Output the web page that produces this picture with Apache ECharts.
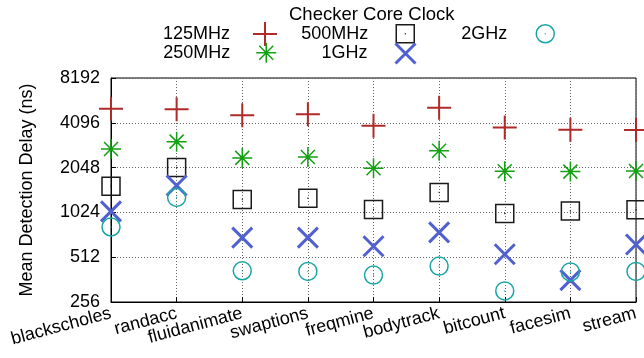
<!DOCTYPE html>
<html>
<head>
<meta charset="utf-8">
<script src="https://cdn.jsdelivr.net/npm/echarts@6/dist/echarts.min.js"></script>
<style>
html,body{margin:0;padding:0;background:#fff;}
#c{width:644px;height:358px;}
</style>
</head>
<body>
<div id="c"></div>
<script>
const categories = ['blackscholes','randacc','fluidanimate','swaptions','freqmine','bodytrack','bitcount','facesim','stream'];
const seriesNames = ['125MHz','250MHz','500MHz','1GHz','2GHz'];
const v125MHz = [5100, 5060, 4610, 4680, 3910, 5160, 3810, 3680, 3660];
const v250MHz = [2730, 3060, 2380, 2415, 2030, 2660, 1935, 1925, 1945];
const v500MHz = [1535, 2048, 1250, 1276, 1072, 1393, 1008, 1045, 1067];
const v1GHz   = [1040, 1552, 693, 693, 606, 752, 536, 359, 623];
const v2GHz   = [817, 1290, 415, 411, 388, 446, 304, 408, 411];
const yTicks = [256, 512, 1024, 2048, 4096, 8192];

const FONT = 'Liberation Sans, Arial, Helvetica, sans-serif';
const styles = [
  {data: v125MHz, color: '#b02a2a', path: 'path://M0,12 L24,12 M12,0 L12,24', size: 24, w: 2, L: 254, T: 231, cy: 33},
  {data: v250MHz, color: '#13a013', path: 'path://M0,10 L20,10 M10,0 L10,20 M3,3 L17,17 M17,3 L3,17', size: 20, w: 1.5, L: 257, T: 231, cy: 52},
  {data: v500MHz, color: '#1a1a1a', path: 'path://M0,0 L18,0 L18,18 L0,18 Z M8.5,9 L9.5,9', size: 18, w: 1.5, L: 397, T: 369, cy: 33},
  {data: v1GHz, color: '#5060d0', path: 'path://M0,0 L20,20 M20,0 L0,20', size: 20, w: 3, L: 397, T: 369, cy: 52},
  {data: v2GHz, color: '#1aa5a5', path: 'path://M0,10 A10,10 0 1,1 20,10 A10,10 0 1,1 0,10 Z M9.5,10 L10.5,10', size: 18, w: 1.5, L: 537, T: 508, cy: 33}
];

const series = styles.map((s, i) => ({
  name: seriesNames[i],
  type: 'scatter',
  data: s.data.map((v, j) => [categories[j], v]),
  symbol: s.path,
  symbolSize: s.size,
  clip: false,
  itemStyle: {color: 'transparent', borderColor: s.color, borderWidth: s.w, opacity: 1},
  emphasis: {disabled: true},
  z: 10 + i
}));

const legends = styles.map((s, i) => ({
  data: [{name: seriesNames[i], icon: s.path, itemStyle: {color: 'transparent', borderColor: s.color, borderWidth: s.w}}],
  right: 644 - (s.L + s.size),
  top: s.cy - s.size / 2,
  padding: 0,
  align: 'right',
  itemWidth: s.size,
  itemHeight: s.size,
  selectedMode: false,
  textStyle: {fontFamily: FONT, fontSize: 18, color: '#000', padding: [0, (s.L - s.T) - 5, 0, 0]}
}));

const chart = echarts.init(document.getElementById('c'), null, {renderer: 'canvas'});
chart.setOption({
  animation: false,
  backgroundColor: '#fff',
  title: {
    text: 'Checker Core Clock',
    left: 289, top: 5, padding: 0,
    textStyle: {fontFamily: FONT, fontSize: 18.5, fontWeight: 'normal', color: '#000'}
  },
  legend: legends,
  grid: {left: 111, right: 8, top: 78, bottom: 56, show: true, borderColor: '#000', borderWidth: 1, backgroundColor: 'transparent'},
  xAxis: {
    type: 'category',
    data: categories,
    boundaryGap: false,
    axisLine: {lineStyle: {color: '#000', width: 1}},
    axisTick: {show: true, inside: true, length: 5, lineStyle: {color: '#000'}},
    axisLabel: {rotate: 15, fontFamily: FONT, fontSize: 18, color: '#000', margin: 11, interval: 0},
    splitLine: {show: true, lineStyle: {color: '#666', type: [1, 2], width: 1}}
  },
  yAxis: {
    type: 'log',
    logBase: 2,
    min: yTicks[0],
    max: yTicks[yTicks.length - 1],
    splitNumber: 5,
    name: 'Mean Detection Delay (ns)',
    nameLocation: 'middle',
    nameGap: 75,
    nameTextStyle: {fontFamily: FONT, fontSize: 18, color: '#000'},
    axisLine: {show: true, lineStyle: {color: '#000', width: 1}},
    axisTick: {show: true, inside: true, length: 5, lineStyle: {color: '#000'}},
    axisLabel: {fontFamily: FONT, fontSize: 18, color: '#000', margin: 11, formatter: v => String(Math.round(v))},
    splitLine: {show: true, lineStyle: {color: '#666', type: [1, 2], width: 1}}
  },
  series: series
});
</script>
</body>
</html>
